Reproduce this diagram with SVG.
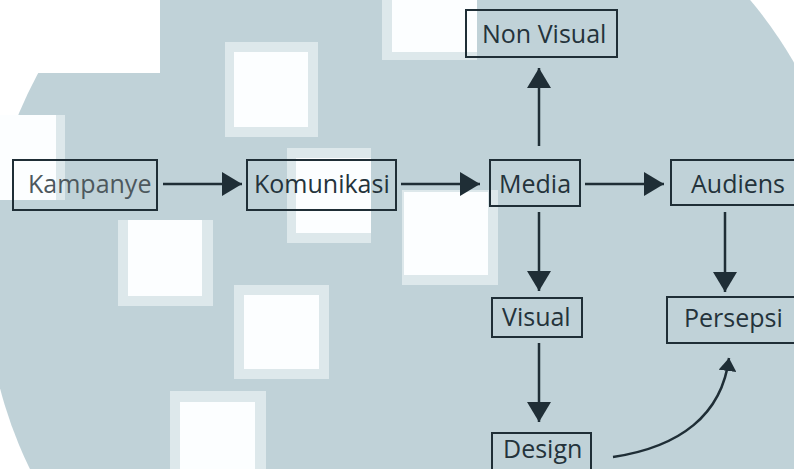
<svg xmlns="http://www.w3.org/2000/svg" width="794" height="469" viewBox="0 0 794 469">
<style>
.box{fill:none;stroke:#1f2e36;stroke-width:2}
.lbl{font-family:"Open Sans","Noto Sans","Liberation Sans",sans-serif;font-size:25px;fill:#24333b}
.con{fill:none;stroke:#1f2e36;stroke-width:2.5}
.sqo{fill:#dde8eb}
.sqi{fill:#fcfeff}
</style>
<defs>
<marker id="ah" markerUnits="userSpaceOnUse" markerWidth="20" markerHeight="24" refX="20" refY="12" orient="auto">
<path d="M0,0 L20,12 L0,24 Z" fill="#1f2e36"/>
</marker>
<marker id="ahs" markerUnits="userSpaceOnUse" markerWidth="13" markerHeight="18" refX="13" refY="9" orient="auto">
<path d="M0,0 L13,9 L0,18 Z" fill="#1f2e36"/>
</marker>
</defs>
<g id="background">
<rect x="0" y="0" width="794" height="469" fill="#ffffff"/>
<circle cx="419" cy="279" r="433" fill="#c0d2d8"/>
<rect x="0" y="0" width="160" height="73" fill="#ffffff"/>
<rect x="0" y="115" width="65" height="85" class="sqo"/>
<rect x="0" y="115" width="56" height="85" class="sqi"/>
<rect x="225" y="42" width="93" height="95" class="sqo"/>
<rect x="234" y="52" width="74" height="75" class="sqi"/>
<rect x="382" y="0" width="95" height="60" class="sqo"/>
<rect x="392" y="0" width="85" height="52" class="sqi"/>
<rect x="287" y="148" width="84" height="95" class="sqo"/>
<rect x="296" y="158" width="75" height="75" class="sqi"/>
<rect x="402" y="190" width="96" height="95" class="sqo"/>
<rect x="404" y="192" width="84" height="83" class="sqi"/>
<rect x="118" y="220" width="95" height="86" class="sqo"/>
<rect x="128" y="220" width="74" height="76" class="sqi"/>
<rect x="234" y="285" width="95" height="94" class="sqo"/>
<rect x="244" y="295" width="75" height="74" class="sqi"/>
<rect x="170" y="391" width="96" height="78" class="sqo"/>
<rect x="180" y="402" width="75" height="67" class="sqi"/>
</g>
<g id="connectors">
<path class="con" d="M163,184 L242,184" marker-end="url(#ah)"/>
<path class="con" d="M401,184 L480,184" marker-end="url(#ah)"/>
<path class="con" d="M585,184 L664,184" marker-end="url(#ah)"/>
<path class="con" d="M539,146 L539,68" marker-end="url(#ah)"/>
<path class="con" d="M539,212 L539,291" marker-end="url(#ah)"/>
<path class="con" d="M539,343 L539,422" marker-end="url(#ah)"/>
<path class="con" d="M725,212 L725,292" marker-end="url(#ah)"/>
<path class="con" d="M613,457 C680,447 722,415 729,358" marker-end="url(#ahs)"/>
</g>
<g id="kampanye">
<rect class="box" x="13" y="160" width="144" height="50"/>
<text class="lbl" x="28" y="193" style="fill:#4d585d">Kampanye</text>
</g>
<g id="komunikasi">
<rect class="box" x="247" y="160" width="149" height="50"/>
<text class="lbl" x="254" y="193">Komunikasi</text>
</g>
<g id="media">
<rect class="box" x="490" y="160" width="90" height="46"/>
<text class="lbl" x="499" y="193">Media</text>
</g>
<g id="nonvisual">
<rect class="box" x="466" y="10" width="151" height="47"/>
<text class="lbl" x="482" y="43">Non Visual</text>
</g>
<g id="audiens">
<rect class="box" x="671" y="160" width="140" height="45"/>
<text class="lbl" x="691" y="193">Audiens</text>
</g>
<g id="visual">
<rect class="box" x="492" y="298" width="90" height="39"/>
<text class="lbl" x="502" y="326">Visual</text>
</g>
<g id="persepsi">
<rect class="box" x="667" y="297" width="140" height="46"/>
<text class="lbl" x="684" y="327">Persepsi</text>
</g>
<g id="design">
<rect class="box" x="492" y="433" width="99" height="45"/>
<text class="lbl" x="503" y="458">Design</text>
</g>
</svg>
